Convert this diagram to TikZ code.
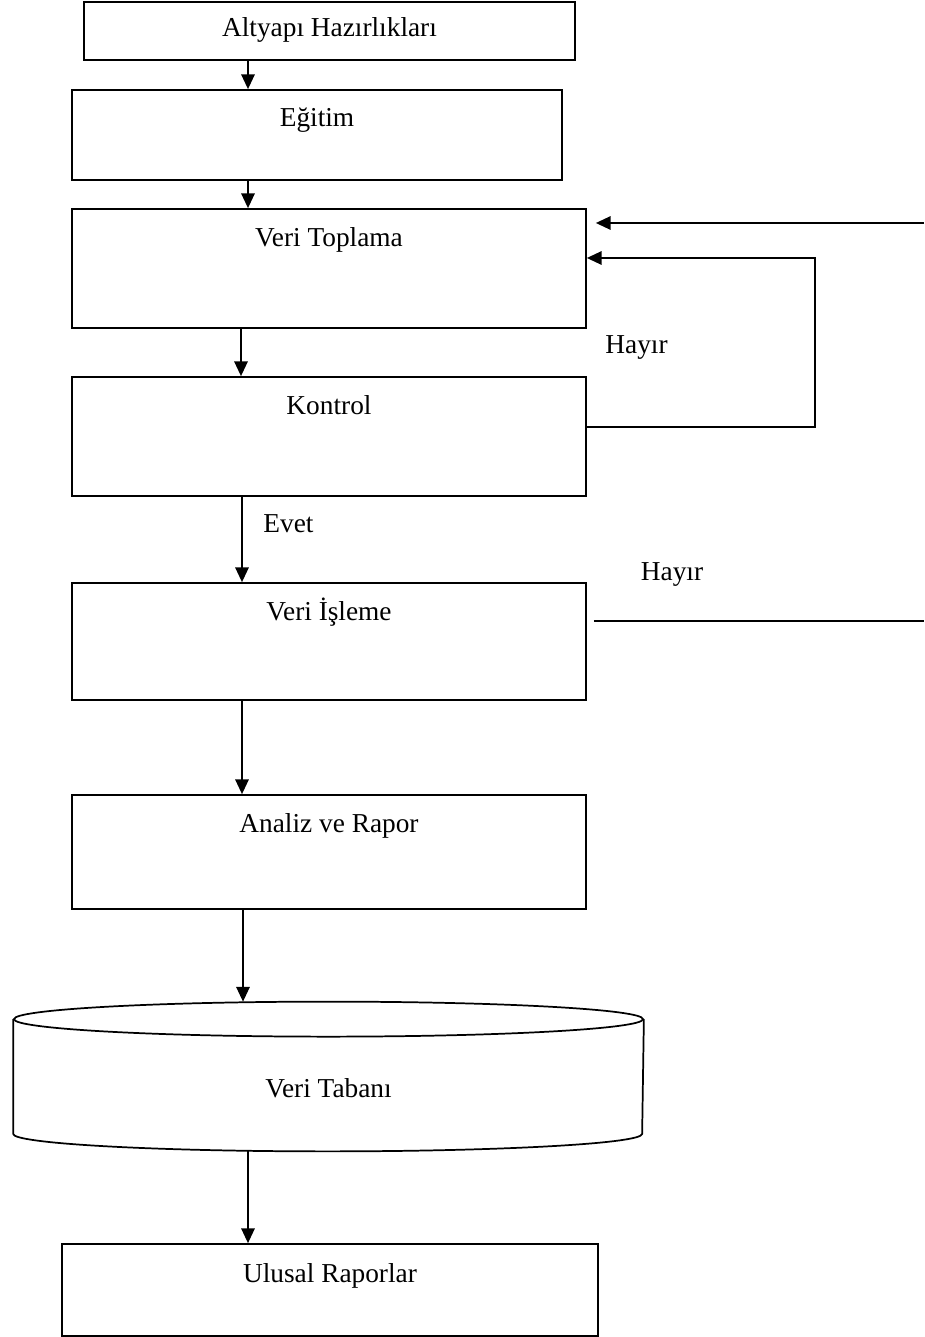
\documentclass[tikz,border=0pt]{standalone}
\usepackage{fontspec}
\setmainfont{Liberation Serif}
\usetikzlibrary{arrows.meta,calc}

\tikzset{every picture/.style={line width=1.3pt}}
\tikzset{
  kutu/.style={draw, inner sep=0pt},
  yazi/.style={font=\fontsize{20.5}{24}\selectfont, inner sep=0pt, anchor=base},
  ok/.style={-{Triangle[length=11pt,width=10pt]}},
}

\begin{document}
\begin{tikzpicture}[x=0.75pt,y=0.75pt,yscale=-1,xscale=1]
	\useasboundingbox (0,0) rectangle (924,1337);
	
	%Shape: Rectangle [altyapi]
	\node[kutu, minimum width=368.25pt, minimum height=43.5pt] (altyapi) at (329.5,31) {};
	%Shape: Rectangle [egitim]
	\node[kutu, minimum width=367.5pt, minimum height=67.5pt] (egitim) at (317,135) {};
	%Shape: Rectangle [toplama]
	\node[kutu, minimum width=385.5pt, minimum height=89.25pt] (toplama) at (329,268.5) {};
	%Shape: Rectangle [kontrol]
	\node[kutu, minimum width=385.5pt, minimum height=89.25pt] (kontrol) at (329,436.5) {};
	%Shape: Rectangle [isleme]
	\node[kutu, minimum width=385.5pt, minimum height=87.75pt] (isleme) at (329,641.5) {};
	%Shape: Rectangle [analiz]
	\node[kutu, minimum width=385.5pt, minimum height=85.5pt] (analiz) at (329,852) {};
	%Shape: Can [db]
	\node[inner sep=0pt, minimum width=471.75pt, minimum height=84.75pt] (db) at (328.5,1076.5) {};
	\draw (db.north) ellipse [x radius=314.5, y radius=17.5];
	\draw (db.north west) -- (db.south west) arc [start angle=180, end angle=0, x radius=314.5, y radius=17.5] -- (db.north east);
	\coordinate (dbust) at ($(db.north)+(0,-17.5)$);
	\coordinate (dbalt) at ($(db.south)+(0,17.5)$);
	%Shape: Rectangle [ulusal]
	\node[kutu, minimum width=402pt, minimum height=69pt] (ulusal) at (330,1290) {};
	
	% columns of the down arrows
	\coordinate (s1) at (248,0);
	\coordinate (s2) at (241,0);
	\coordinate (s3) at (242,0);
	\coordinate (s4) at (243,0);
	
	%Straight Lines
	\draw[ok] (altyapi.south -| s1) -- (egitim.north -| s1);
	\draw[ok] (egitim.south -| s1) -- (toplama.north -| s1);
	\draw[ok] (toplama.south -| s2) -- (kontrol.north -| s2);
	\draw[ok] (kontrol.south -| s3) -- (isleme.north -| s3);
	\draw[ok] (isleme.south -| s3) -- (analiz.north -| s3);
	\draw[ok] (analiz.south -| s4) -- (dbust -| s4);
	\draw[ok] (dbalt -| s1) -- (ulusal.north -| s1);
	
	%Straight Lines [inner loop]
	\coordinate (don1) at (815,427);
	\coordinate (don2) at (815,258);
	\draw[ok] (kontrol.east |- don1) -- (don1) -- (don2) -- (toplama.east |- don2);
	
	%Straight Lines [outer loop]
	\coordinate (sag1) at (924,223);
	\coordinate (sag2) at (924,621);
	\draw[ok] (sag1) -- ($(toplama.east |- sag1)+(9,0)$);
	\draw ($(isleme.east |- sag2)+(7,0)$) -- (sag2);
	
	% Text Node
	\node[yazi] (taltyapi) at (329.5,37) {Altyapı Hazırlıkları};
	% Text Node
	\node[yazi] (tegitim) at (317,127) {Eğitim};
	% Text Node
	\node[yazi] (ttoplama) at (329,247) {Veri Toplama};
	% Text Node
	\node[yazi] (tkontrol) at (329,414) {Kontrol};
	% Text Node
	\node[yazi] (tisleme) at (329,620) {Veri İşleme};
	% Text Node
	\node[yazi] (tanaliz) at (329,832) {Analiz ve Rapor};
	% Text Node
	\node[yazi] (tdb) at (328.5,1097) {Veri Tabanı};
	% Text Node
	\node[yazi] (tulusal) at (330,1282) {Ulusal Raporlar};
	% Text Node
	\node[yazi] (evet) at (288.5,532) {Evet};
	% Text Node
	\node[yazi] (hayir1) at (636.5,353) {Hayır};
	% Text Node
	\node[yazi] (hayir2) at (672,580) {Hayır};
	
\end{tikzpicture}
\end{document}
